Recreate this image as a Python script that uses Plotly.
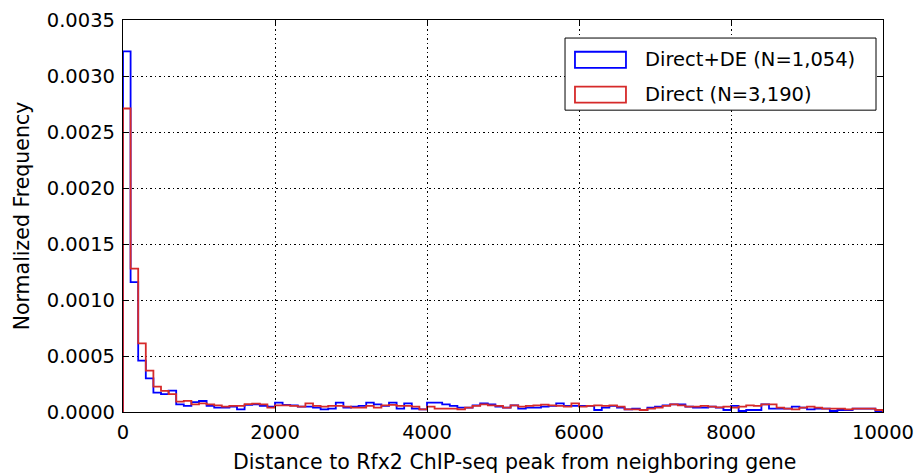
import plotly.graph_objects as go

bin_width = 100
bin_starts = list(range(0, 10000, bin_width))

direct_de = [
    0.00322, 0.00116, 0.000458, 0.000301, 0.000173, 0.00016, 0.00019, 0.000068, 0.000054, 0.000089,
    0.000098, 0.000054, 0.000039, 0.000039, 0.000048, 0.000024, 0.000063, 0.000068, 0.000054, 0.000048,
    0.000083, 0.000063, 0.000060, 0.000048, 0.000048, 0.000039, 0.000024, 0.000030, 0.000083, 0.000039,
    0.000048, 0.000054, 0.000083, 0.000068, 0.000054, 0.000083, 0.000030, 0.000077, 0.000030, 0.000024,
    0.000083, 0.000083, 0.000068, 0.000054, 0.000039, 0.000039, 0.000060, 0.000077, 0.000068, 0.000048,
    0.000039, 0.000060, 0.000030, 0.000039, 0.000039, 0.000048, 0.000054, 0.000077, 0.000054, 0.000054,
    0.000054, 0.000054, 0.000018, 0.000039, 0.000054, 0.000039, 0.000024, 0.000030, 0.000018, 0.000039,
    0.000048, 0.000060, 0.000068, 0.000068, 0.000048, 0.000039, 0.000039, 0.000048, 0.000039, 0.000018,
    0.000054, 0.000009, 0.000018, 0.000018, 0.000068, 0.000030, 0.000030, 0.000030, 0.000048, 0.000039,
    0.000024, 0.000030, 0.000030, 0.000009, 0.000018, 0.000018, 0.000030, 0.000030, 0.000030, 0.000009,
]

direct = [
    0.00271, 0.00128, 0.000613, 0.000369, 0.000226, 0.000188, 0.00016, 0.000092, 0.0001, 0.000068,
    0.000077, 0.000068, 0.000060, 0.000048, 0.000054, 0.000054, 0.000071, 0.000074, 0.000068, 0.000039,
    0.000060, 0.000060, 0.000054, 0.000048, 0.000077, 0.000054, 0.000048, 0.000054, 0.000054, 0.000048,
    0.000039, 0.000039, 0.000054, 0.000039, 0.000060, 0.000063, 0.000054, 0.000054, 0.000048, 0.000024,
    0.000048, 0.000030, 0.000030, 0.000030, 0.000024, 0.000039, 0.000054, 0.000068, 0.000060, 0.000054,
    0.000039, 0.000060, 0.000048, 0.000054, 0.000060, 0.000065, 0.000060, 0.000054, 0.000048, 0.000077,
    0.000048, 0.000054, 0.000060, 0.000054, 0.000060, 0.000048, 0.000024, 0.000024, 0.000018, 0.000030,
    0.000039, 0.000054, 0.000068, 0.000060, 0.000048, 0.000048, 0.000054, 0.000048, 0.000042, 0.000048,
    0.000039, 0.000048, 0.000060, 0.000054, 0.000068, 0.000068, 0.000039, 0.000030, 0.000024, 0.000039,
    0.000048, 0.000039, 0.000030, 0.000030, 0.000030, 0.000024, 0.000030, 0.000030, 0.000030, 0.000018,
]

series_names = ["Direct+DE (N=1,054)", "Direct (N=3,190)"]
series_colors = ["#0000ff", "#d62a2a"]
x_ticks = [0, 2000, 4000, 6000, 8000, 10000]
y_ticks = [0.0, 0.0005, 0.001, 0.0015, 0.002, 0.0025, 0.003, 0.0035]
x_title = "Distance to Rfx2 ChIP-seq peak from neighboring gene"
y_title = "Normalized Frequency"


def step_outline(starts, vals, width):
    xs = [starts[0]] + list(starts) + [starts[-1] + width]
    ys = [0] + list(vals) + [0]
    return xs, ys


fig = go.Figure()
for vals, name, color in zip([direct_de, direct], series_names, series_colors):
    xs, ys = step_outline(bin_starts, vals, bin_width)
    fig.add_trace(go.Scatter(x=xs, y=ys, mode="lines", line=dict(color=color, width=1.8, shape="hv"),
                             name=name, showlegend=False, hoverinfo="skip"))

font_family = "DejaVu Sans, sans-serif"
grid_dash = "1.5px,3px"

fig.update_layout(
    width=916, height=473,
    margin=dict(l=123, r=33, t=20, b=61),
    paper_bgcolor="white", plot_bgcolor="white",
    font=dict(family=font_family, size=19.5, color="black"),
    xaxis=dict(range=[0, 10000], tickvals=x_ticks, ticktext=[str(v) for v in x_ticks],
               showline=True, linecolor="black", linewidth=1.2, mirror="ticks",
               ticks="inside", ticklen=6, tickcolor="black", ticklabelstandoff=2,
               showgrid=True, gridcolor="black", griddash=grid_dash, gridwidth=1,
               zeroline=False, automargin=False),
    yaxis=dict(range=[0, 0.0035], tickvals=y_ticks, tickformat=".4f",
               showline=True, linecolor="black", linewidth=1.2, mirror="ticks",
               ticks="inside", ticklen=6, tickcolor="black", ticklabelstandoff=3,
               showgrid=True, gridcolor="black", griddash=grid_dash, gridwidth=1,
               zeroline=False, automargin=False,
               title=dict(text=y_title, font=dict(size=20.5), standoff=11)),
)

fig.add_annotation(xref="paper", yref="paper", x=0.5145, y=-0.1276, text=x_title, showarrow=False,
                   xanchor="center", yanchor="middle", font=dict(size=20.5, color="black"))

# legend drawn manually (box with rectangle patches, like the reference)
fig.add_shape(type="rect", xref="paper", yref="paper", x0=0.5816, x1=0.9908, y0=0.770, y1=0.954,
              line=dict(color="black", width=1), fillcolor="white", layer="above")
patch_y = [(0.878, 0.919), (0.789, 0.830)]
text_y = [0.898, 0.809]
for (y0, y1), ty, name, color in zip(patch_y, text_y, series_names, series_colors):
    fig.add_shape(type="rect", xref="paper", yref="paper", x0=0.5947, x1=0.6618, y0=y0, y1=y1,
                  line=dict(color=color, width=1.8), fillcolor="rgba(0,0,0,0)", layer="above")
    fig.add_annotation(xref="paper", yref="paper", x=0.684, y=ty, text=name, showarrow=False,
                       xanchor="left", yanchor="middle", font=dict(size=19.5, color="black"))

fig.write_html("out.html", config={"displayModeBar": False},
               post_script="document.body.style.margin='0';")
